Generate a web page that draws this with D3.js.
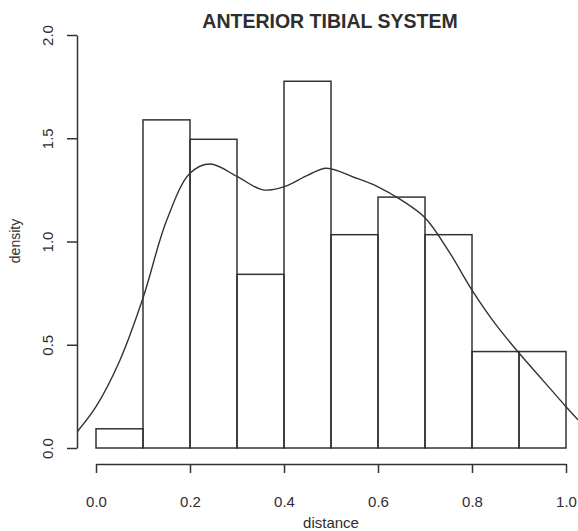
<!DOCTYPE html>
<html>
<head>
<meta charset="utf-8">
<script src="https://cdn.jsdelivr.net/npm/d3@7"></script>
<style>
  html, body { margin: 0; padding: 0; background: #ffffff; }
  svg { display: block; }
  text { font-family: "Liberation Sans", Arial, sans-serif; fill: #2e2e2e; }
</style>
</head>
<body>
<script>
// ---- data ----
const binStarts = [0.0, 0.1, 0.2, 0.3, 0.4, 0.5, 0.6, 0.7, 0.8, 0.9];
const binWidth = 0.1;
const densities = [0.093, 1.589, 1.495, 0.841, 1.776, 1.033, 1.215, 1.033, 0.467, 0.467];
const curveX = [-0.04, 0.0, 0.05, 0.1, 0.15, 0.2, 0.243, 0.3, 0.355, 0.4, 0.45, 0.49, 0.55, 0.6, 0.65, 0.7, 0.75, 0.8, 0.85, 0.9, 0.95, 1.0, 1.026];
const curveY = [0.079, 0.2, 0.42, 0.726, 1.1, 1.33, 1.375, 1.315, 1.25, 1.265, 1.32, 1.355, 1.31, 1.265, 1.2, 1.115, 0.955, 0.765, 0.6, 0.46, 0.33, 0.2, 0.136];
const xTicks = [0, 0.2, 0.4, 0.6, 0.8, 1.0];
const yTicks = [0, 0.5, 1.0, 1.5, 2.0];
const title = "ANTERIOR TIBIAL SYSTEM";
const xLabel = "distance";
const yLabel = "density";

// ---- drawing ----
const W = 578, H = 531;
const ink = "#333333";
const svg = d3.select("body").append("svg").attr("width", W).attr("height", H);
svg.append("rect").attr("width", W).attr("height", H).attr("fill", "#ffffff");

const x = d3.scaleLinear().domain([0, 1]).range([96, 566]);
const y = d3.scaleLinear().domain([0, 2]).range([448, 35]);

// bars
svg.append("g").selectAll("rect").data(binStarts).join("rect")
  .attr("x", d => x(d))
  .attr("y", (d, i) => y(densities[i]))
  .attr("width", d => x(d + binWidth) - x(d))
  .attr("height", (d, i) => y(0) - y(densities[i]))
  .attr("fill", "none")
  .attr("stroke", ink)
  .attr("stroke-width", 1.5);

// density curve
const pts = curveX.map((v, i) => [v, curveY[i]]);
svg.append("path")
  .datum(pts)
  .attr("d", d3.line().x(d => x(d[0])).y(d => y(d[1])).curve(d3.curveCatmullRom.alpha(0.5)))
  .attr("fill", "none")
  .attr("stroke", ink)
  .attr("stroke-width", 1.4);

// y axis
const yAxis = d3.axisLeft(y).tickValues(yTicks).tickFormat(d3.format(".1f")).tickSize(10).tickSizeOuter(0);
const gy = svg.append("g").attr("transform", "translate(77,0)").call(yAxis);
gy.select(".domain").attr("stroke", ink).attr("stroke-width", 1.5);
gy.selectAll(".tick line").attr("stroke", ink).attr("stroke-width", 1.5);
gy.selectAll(".tick text")
  .attr("x", 0).attr("dy", null).attr("y", 0)
  .attr("text-anchor", "middle")
  .attr("transform", "translate(-24,0) rotate(-90)")
  .style("font-size", "15px")
  .style("font-family", "'Liberation Sans', Arial, sans-serif")
  .attr("fill", "#2e2e2e");

// x axis
const xAxis = d3.axisBottom(x).tickValues(xTicks).tickFormat(d3.format(".1f")).tickSize(9).tickSizeOuter(0);
const gx = svg.append("g").attr("transform", "translate(0,464)").call(xAxis);
gx.select(".domain").attr("stroke", ink).attr("stroke-width", 1.5);
gx.selectAll(".tick line").attr("stroke", ink).attr("stroke-width", 1.5);
gx.selectAll(".tick text")
  .attr("y", 43).attr("dy", null)
  .style("font-size", "15px")
  .style("font-family", "'Liberation Sans', Arial, sans-serif")
  .attr("fill", "#2e2e2e");

// labels
svg.append("text")
  .attr("x", 330).attr("y", 28)
  .attr("text-anchor", "middle")
  .style("font-size", "19.5px").style("font-weight", "bold")
  .text(title);

svg.append("text")
  .attr("x", 331).attr("y", 528)
  .attr("text-anchor", "middle")
  .style("font-size", "15px")
  .text(xLabel);

svg.append("text")
  .attr("transform", "translate(20,241) rotate(-90)")
  .attr("text-anchor", "middle")
  .style("font-size", "14px")
  .text(yLabel);
</script>
</body>
</html>
